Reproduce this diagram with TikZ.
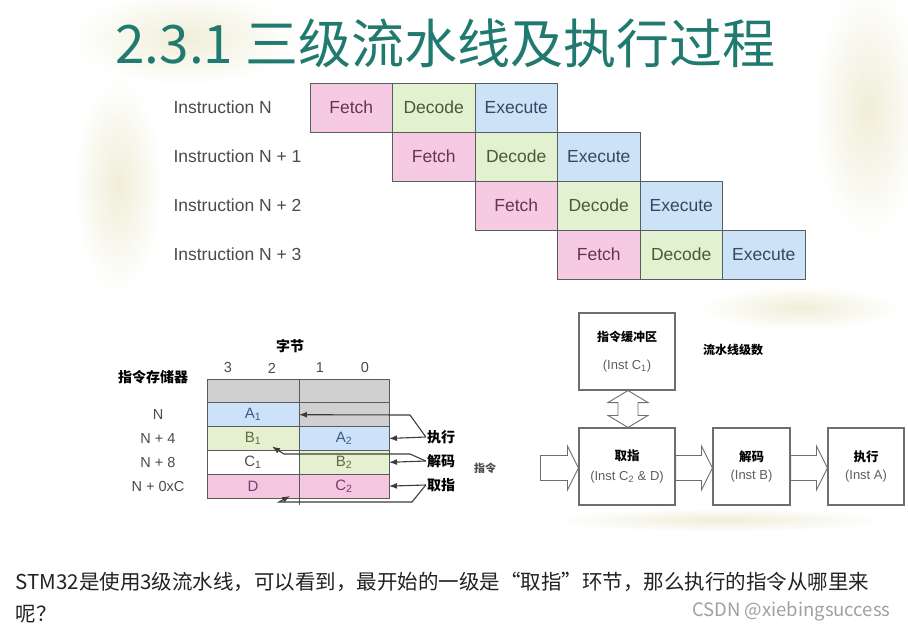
\documentclass[tikz,border=0pt]{standalone}
\usepackage{fontspec}
\setmainfont{Liberation Sans}
\newfontfamily\cjk{Noto Sans CJK SC}
\usetikzlibrary{arrows.meta,calc,positioning}

\begin{document}
\begin{tikzpicture}[x=1pt,y=-1pt,>=Latex,
  cell/.style={draw=cellline,line width=1pt,outer sep=0pt,inner sep=0pt,
    minimum width=82.5,minimum height=49,font=\fontsize{17.5}{20}\selectfont},
  insn/.style={anchor=west,text=labgray,font=\fontsize{17.5}{20}\selectfont},
  mem/.style={draw=memline,line width=0.9pt,outer sep=0pt,inner sep=0pt,
    minimum height=23.8,font=\fontsize{15}{17}\selectfont},
  addr/.style={text=labgray,font=\fontsize{14.5}{17}\selectfont},
  tag/.style={inner sep=1pt,font=\cjk\bfseries\fontsize{14}{16}\selectfont},
  link/.style={draw=linkgray,line width=1.1pt},
  stage/.style={draw=boxline,line width=1.1pt,inner sep=0pt,align=center,
    minimum height=77,font=\fontsize{13}{15}\selectfont},
  hollow/.style={draw=boxline,line width=0.9pt,fill=white}]
\definecolor{titlecol}{RGB}{32,122,112}
\definecolor{bgbeige}{RGB}{240,238,216}
\definecolor{cellline}{RGB}{85,95,95}
\definecolor{labgray}{RGB}{75,75,75}
\definecolor{fetchfill}{RGB}{246,202,226}
\definecolor{fetchtext}{RGB}{105,50,88}
\definecolor{decfill}{RGB}{226,241,208}
\definecolor{dectext}{RGB}{72,92,52}
\definecolor{exefill}{RGB}{204,226,246}
\definecolor{exetext}{RGB}{52,72,102}
\definecolor{memline}{RGB}{90,90,90}
\definecolor{memgray}{RGB}{208,208,208}
\definecolor{memblue}{RGB}{204,226,248}
\definecolor{memgreen}{RGB}{228,240,208}
\definecolor{mempink}{RGB}{245,198,224}
\definecolor{atext}{RGB}{60,90,130}
\definecolor{btext}{RGB}{92,110,62}
\definecolor{ctext}{RGB}{80,80,80}
\definecolor{dtext}{RGB}{120,60,110}
\definecolor{linkgray}{RGB}{60,60,60}
\definecolor{boxline}{RGB}{110,110,110}
\definecolor{insttext}{RGB}{95,95,95}
\definecolor{bodytext}{RGB}{34,34,34}
\definecolor{wmgray}{RGB}{160,160,160}

\fill[white] (0,0) rectangle (908,630);
\useasboundingbox (0,0) rectangle (908,630);

% faint slide background
\shade[inner color=bgbeige,outer color=white] (185,38) ellipse[x radius=115,y radius=48];
\shade[inner color=bgbeige,outer color=white] (118,185) ellipse[x radius=45,y radius=110];
\shade[inner color=bgbeige,outer color=white] (868,110) ellipse[x radius=55,y radius=130];
\shade[inner color=bgbeige,outer color=white] (800,308) ellipse[x radius=100,y radius=22];
\shade[inner color=bgbeige,outer color=white] (720,520) ellipse[x radius=170,y radius=12];

\node[anchor=west,text=titlecol,font=\cjk\fontsize{53}{58}\selectfont] (title)
  at (112,43) {2.3.1 三级流水线及执行过程};

% three-stage pipeline table
\foreach \r in {0,...,3}{
  \node[insn] (ins\r) at (170,{107.5+49*\r}) {Instruction N\ifnum\r>0{} + \r\fi};
  \node[cell,fill=fetchfill,text=fetchtext] (f\r) at ({351.25+82.5*\r},{107.5+49*\r}) {Fetch};
  \node[cell,fill=decfill,text=dectext,right=0pt of f\r] (d\r) {Decode};
  \node[cell,fill=exefill,text=exetext,right=0pt of d\r] (e\r) {Execute};
}

% instruction memory
\node[tag] (bytes) at (290,346) {字节};
\node[tag] (imem) at (153,377) {指令存储器};
\foreach \b/\x in {3/228,2/272,1/320,0/365}
  \node[addr] (byte\b) at (\x,368) {\b};
\foreach \nm/\txt/\fc/\tc [count=\k from 0] in {hl//memgray/black,
    a1/A\textsubscript{1}/memblue/atext, b1/B\textsubscript{1}/memgreen/btext,
    c1/C\textsubscript{1}/white/ctext, d/D/mempink/dtext}
  \node[mem,minimum width=92,fill=\fc,text=\tc] (\nm) at (253,{390.9+23.8*\k}) {\txt};
\foreach \nm/\txt/\fc/\tc [count=\k from 0] in {hr//memgray/black,
    gr//memgray/black, a2/A\textsubscript{2}/memblue/atext,
    b2/B\textsubscript{2}/memgreen/btext, c2/C\textsubscript{2}/mempink/dtext}
  \node[mem,minimum width=90,fill=\fc,text=\tc] (\nm) at (344,{390.9+23.8*\k}) {\txt};
\draw[memline,line width=0.9pt] (d.south east) -- ++(0,7);
\foreach \nm/\txt [count=\k from 1] in {adN/N, ad4/N + 4, ad8/N + 8, adC/N + 0xC}
  \node[addr] (\nm) at (158,{390.9+23.8*\k}) {\txt};

\node[tag] (zx) at (441,437) {执行};
\node[tag] (jm) at (441,461) {解码};
\node[tag] (qz) at (441,485) {取指};
\node[tag,text=labgray,font=\cjk\bfseries\fontsize{11}{13}\selectfont] (zl) at (485,468) {指令};

\coordinate (zxb) at (410,415);
\coordinate (jmb) at (410,454);
\coordinate (jmc) at (284,454);
\coordinate (b1tip) at ($(b1.center)+(19,8)$);
\coordinate (qzb) at (412,502);
\coordinate (qzc) at (279,502);
\coordinate (dtip) at ($(d.south east)+(-9,-2)$);
\draw[link,->] (zx.west) -- (a2.east);
\draw[link,->] (zx.west) -- (zxb) -- (a1.east);
\draw[link,->] (jm.west) -- (b2.east);
\draw[link,->] (jm.west) -- (jmb) -- (jmc) -- (b1tip);
\draw[link,->] (qz.west) -- (c2.east);
\draw[link,->] (qz.west) -- (qzb) -- (qzc) -- (dtip);

% pipeline stages
\node[stage,minimum width=96] (buf) at (627,351.5)
  {{\cjk\bfseries\fontsize{12}{14}\selectfont 指令缓冲区}\\[13pt]
   {\color{insttext}(Inst C\textsubscript{1})}};
\node[tag,font=\cjk\bfseries\fontsize{12}{14}\selectfont] (depth) at (733,350) {流水线级数};
\node[stage,minimum width=96] (fetch) at (627,466.5)
  {{\cjk\bfseries\fontsize{12.5}{14}\selectfont 取指}\\[5pt]
   {\color{insttext}(Inst C\textsubscript{2} \& D)}};
\node[stage,minimum width=77] (dec) at (751.5,466.5)
  {{\cjk\bfseries\fontsize{12.5}{14}\selectfont 解码}\\[3pt]
   {\color{insttext}(Inst B)}};
\node[stage,minimum width=76] (exe) at (866,466.5)
  {{\cjk\bfseries\fontsize{12.5}{14}\selectfont 执行}\\[3pt]
   {\color{insttext}(Inst A)}};
\node[inner sep=0pt,outer sep=0pt] (src) at (540,466.5) {};

\foreach \a/\b in {src/fetch,fetch/dec,dec/exe}
  \draw[hollow] ($(\a.east)+(0,-11)$) -- ($(\b.west)+(-11,-11)$)
    -- ($(\b.west)+(-11,-20.5)$) -- ($(\b.west)+(0,1.5)$)
    -- ($(\b.west)+(-11,23.5)$) -- ($(\b.west)+(-11,14)$)
    -- ($(\a.east)+(0,14)$) -- cycle;
\draw[hollow] ($(buf.south)+(1,0)$) -- ($(buf.south)+(21,12)$)
  -- ($(buf.south)+(11,12)$) -- ($(fetch.north)+(11,-12)$)
  -- ($(fetch.north)+(21,-12)$) -- ($(fetch.north)+(1,0)$)
  -- ($(fetch.north)+(-19,-12)$) -- ($(fetch.north)+(-9,-12)$)
  -- ($(buf.south)+(-9,12)$) -- ($(buf.south)+(-19,12)$) -- cycle;

\node[anchor=west,align=left,text=bodytext,font=\cjk\fontsize{20.5}{32}\selectfont] (para)
  at (12,598) {STM32是使用3级流水线，可以看到，最开始的一级是“取指”环节，那么执行的指令从哪里来\\呢？};
\node[anchor=east,text=wmgray,font=\cjk\fontsize{18.5}{20}\selectfont] (wm)
  at (894,611) {CSDN @xiebingsuccess};
\end{tikzpicture}
\end{document}
